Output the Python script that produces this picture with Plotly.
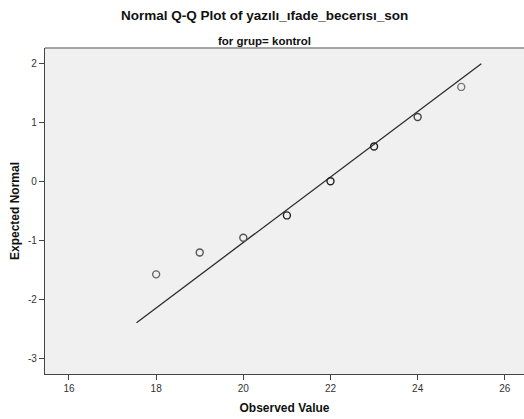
import plotly.graph_objects as go

# Observed values and their expected normal scores
observed = [18, 19, 20, 21, 22, 23, 24, 25]
expected_normal = [-1.58, -1.21, -0.96, -0.58, 0.0, 0.59, 1.09, 1.60]

# Reference line parameters (sample mean and standard deviation)
mean_val = 21.87
sd_val = 1.80
line_x = [17.55, 25.46]
line_y = [(x - mean_val) / sd_val for x in line_x]

x_ticks = [16, 18, 20, 22, 24, 26]
y_ticks = [-3, -2, -1, 0, 1, 2]

marker_colors = ["#666666", "#555555", "#555555", "#222222",
                 "#222222", "#222222", "#444444", "#777777"]

fig = go.Figure()
fig.add_trace(go.Scatter(
    x=line_x, y=line_y, mode="lines",
    line=dict(color="#2b2b2b", width=1.3),
    hoverinfo="skip", showlegend=False,
))
fig.add_trace(go.Scatter(
    x=observed, y=expected_normal, mode="markers",
    marker=dict(symbol="circle-open", size=7,
                color=marker_colors,
                line=dict(width=1.4, color=marker_colors)),
    showlegend=False,
))

font_family = "Liberation Sans, Arial, sans-serif"

fig.update_layout(
    width=524, height=419,
    margin=dict(l=45, r=0, t=48, b=45),
    paper_bgcolor="white",
    plot_bgcolor="#f0f0f0",
    font=dict(family=font_family, color="#222222"),
    showlegend=False,
    xaxis=dict(
        range=[15.45, 26.44],
        tickvals=x_ticks, ticktext=[str(v) for v in x_ticks],
        showgrid=False, zeroline=False,
        showline=True, linecolor="#444444", linewidth=1.3,
        ticks="outside", ticklen=5, tickcolor="#444444", tickwidth=1,
        tickfont=dict(size=10, color="#333333"),
        title=dict(text="<b>Observed Value</b>", font=dict(size=12, color="#111111"), standoff=10),
    ),
    yaxis=dict(
        range=[-3.27, 2.26],
        tickvals=y_ticks, ticktext=[str(v) for v in y_ticks],
        showgrid=False, zeroline=False,
        showline=True, linecolor="#444444", linewidth=1.3,
        ticks="outside", ticklen=5, tickcolor="#444444", tickwidth=1,
        tickfont=dict(size=10, color="#333333"),
        title=dict(text="<b>Expected Normal</b>", font=dict(size=12, color="#111111"), standoff=5),
    ),
    shapes=[dict(type="line", xref="paper", yref="paper",
                 x0=0, x1=1, y0=1, y1=1,
                 line=dict(color="#888888", width=1.5))],
    annotations=[
        dict(text="<b>Normal Q-Q Plot of yazılı_ıfade_becerısı_son</b>",
             xref="paper", yref="paper", x=0.459, y=1.0, yshift=33,
             xanchor="center", yanchor="middle", showarrow=False,
             font=dict(size=13.5, color="#111111", family=font_family)),
        dict(text="<b>for grup= kontrol</b>",
             xref="paper", yref="paper", x=0.459, y=1.0, yshift=7,
             xanchor="center", yanchor="middle", showarrow=False,
             font=dict(size=11.5, color="#111111", family=font_family)),
    ],
)

fig.write_html("out.html")
